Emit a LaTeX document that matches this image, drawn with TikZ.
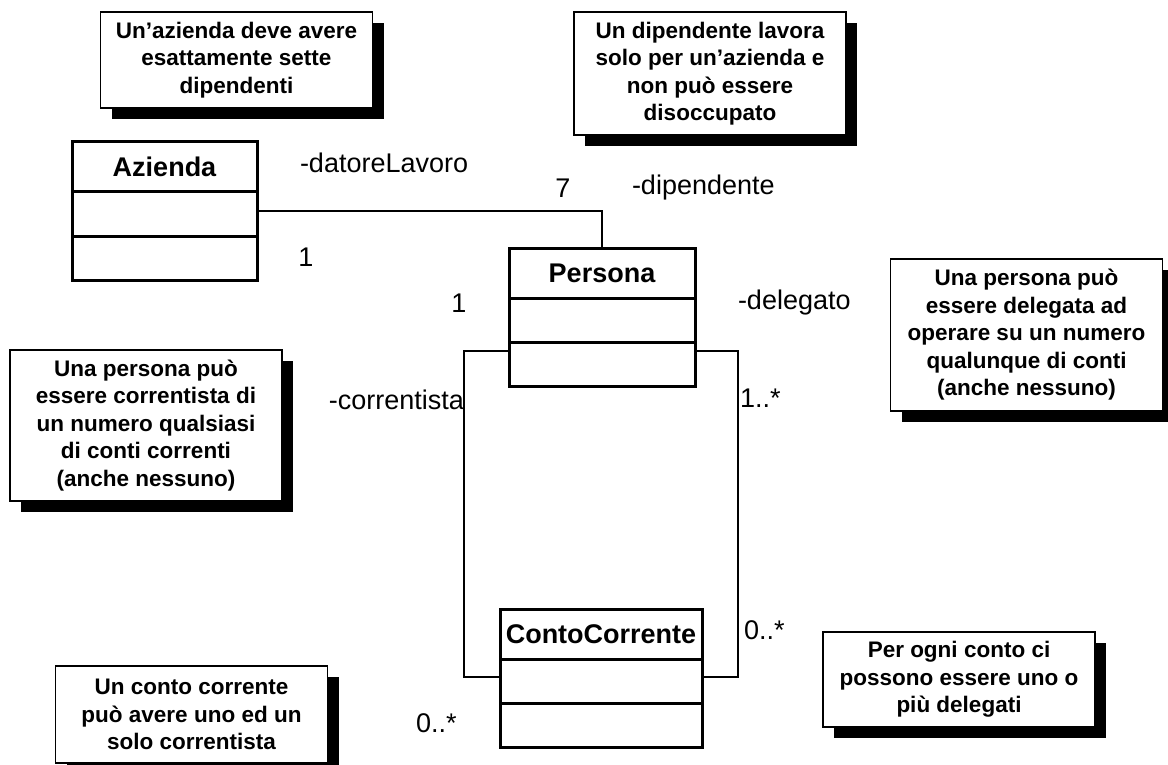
\documentclass[tikz,border=0pt]{standalone}
\usepackage{fontspec}
\setmainfont{Liberation Sans}
\usetikzlibrary{positioning,shadows}

\begin{document}
\begin{tikzpicture}
        [ x = 1pt, y = -1pt
        , every node/.style =
          { outer sep = 0pt }
        , classname/.style =
          { draw, line width = 3pt, minimum height = 50pt, inner sep = 0pt
          , font = \fontsize{27}{31}\selectfont\bfseries }
        , compartment/.style =
          { draw, line width = 3pt, minimum height = 44pt, inner sep = 0pt }
        , note/.style =
          { draw, line width = 1.6pt, fill = white, minimum width = 272pt
          , align = center, inner sep = 0pt
          , font = \fontsize{22.5}{27.5}\selectfont\bfseries
          , drop shadow = {shadow xshift = 11pt, shadow yshift = -11pt, opacity = 1, fill = black} }
        , role/.style =
          { inner sep = 0pt, font = \fontsize{27}{31}\selectfont }
        , assoc/.style =
          { line width = 2pt }
        ]
        \useasboundingbox (0,0) rectangle (1168,765);

        % classes
        \node [classname, minimum width = 185pt] (azienda) at (164.5,167) {Azienda};
        \node [compartment, minimum width = 185pt] (azienda-a) [below=0pt of azienda] {};
        \node [compartment, minimum width = 185pt] (azienda-o) [below=0pt of azienda-a] {};

        \node [classname, minimum width = 186pt] (persona) at (602,273) {Persona};
        \node [compartment, minimum width = 186pt] (persona-a) [below=0pt of persona] {};
        \node [compartment, minimum width = 186pt] (persona-o) [below=0pt of persona-a] {};

        \node [classname, minimum width = 202pt] (conto) at (601,634) {ContoCorrente};
        \node [compartment, minimum width = 202pt] (conto-a) [below=0pt of conto] {};
        \node [compartment, minimum width = 202pt] (conto-o) [below=0pt of conto-a] {};

        % notes
        \node [note, minimum height = 96pt] (n-azienda) at (236.5,60)
          {Un’azienda deve avere\\esattamente sette\\dipendenti};
        \node [note, minimum height = 123pt] (n-dipendente) at (710,73.5)
          {Un dipendente lavora\\solo per un’azienda e\\non può essere\\disoccupato};
        \node [note, minimum height = 152pt] (n-delegato) at (1026.5,335)
          {Una persona può\\essere delegata ad\\operare su un numero\\qualunque di conti\\(anche nessuno)};
        \node [note, minimum height = 151pt] (n-correntista) at (146,425.5)
          {Una persona può\\essere correntista di\\un numero qualsiasi\\di conti correnti\\(anche nessuno)};
        \node [note, minimum height = 95pt] (n-delegati) at (959,679.5)
          {Per ogni conto ci\\possono essere uno o\\più delegati};
        \node [note, minimum height = 97pt] (n-conto) at (191.5,714.5)
          {Un conto corrente\\può avere uno ed un\\solo correntista};

        % roles and multiplicities
        \node [role, anchor = west] (r-datore) at (300,163) {-datoreLavoro};
        \node [role] (m-datore) at (306,257) {1};
        \node [role] (m-dipendente) at (563,188) {7};
        \node [role, anchor = west] (r-dipendente) at (632,188) {-dipendente};
        \node [role] (m-correntista) at (459,303) {1};
        \node [role, anchor = east] (r-correntista) at (464,400) {-correntista};
        \node [role, anchor = west] (r-delegato) at (738,303) {-delegato};
        \node [role, anchor = west] (m-delegato) at (740,398) {1..*};
        \node [role, anchor = west] (m-conti-del) at (744,630) {0..*};
        \node [role, anchor = west] (m-conti-corr) at (416,723) {0..*};

        % associations
        \draw [assoc] ([yshift=3pt]azienda-a.east) -| (persona.north);
        \draw [assoc] ([yshift=-9pt]persona-o.north west) -- ++(-45,0) |- ([yshift=4pt]conto-a.west);
        \draw [assoc] ([yshift=-9pt]persona-o.north east) -- ++(43,0) |- ([yshift=4pt]conto-a.east);
\end{tikzpicture}
\end{document}
